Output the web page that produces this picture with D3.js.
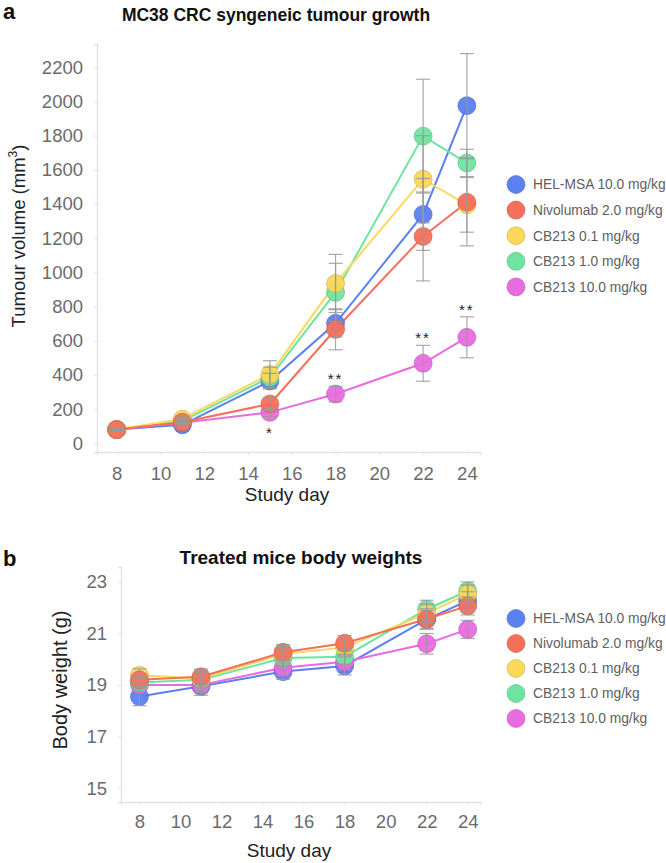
<!DOCTYPE html>
<html><head><meta charset="utf-8">
<script src="https://cdn.jsdelivr.net/npm/d3@7"></script>
<style>body{margin:0;background:#fff;} svg{display:block;font-family:"Liberation Sans",Arial,Helvetica,sans-serif;}</style>
</head><body>
<script>
const days = [8, 11, 15, 18, 22, 24];
const seriesNames = ["HEL-MSA 10.0 mg/kg", "Nivolumab 2.0 mg/kg", "CB213 0.1 mg/kg", "CB213 1.0 mg/kg", "CB213 10.0 mg/kg"];
const seriesColors = ["#5b80f2", "#f5705a", "#fbd75a", "#6fe4a0", "#e96be0"];
// tumour volume (mm3)
const tumourHEL = [80, 108, 364, 702, 1339, 1975];
const tumourNivo = [80, 123, 230, 667, 1210, 1410];
const tumourCB01 = [80, 142, 403, 935, 1545, 1395];
const tumourCB1 = [80, 130, 385, 883, 1797, 1640];
const tumourCB10 = [80, 120, 181, 288, 468, 620];
const tumourErrHEL = [6, 15, 45, 80, 210, 305];
const tumourErrNivo = [6, 15, 35, 120, 260, 255];
const tumourErrCB01 = [6, 18, 80, 170, 255, 160];
const tumourErrCB1 = [6, 16, 60, 170, 333, 80];
const tumourErrCB10 = [6, 15, 25, 45, 105, 120];
const tumourStars = ["", "", "*", "**", "**", "**"];
// body weight (g)
const weightHEL = [18.55, 18.95, 19.52, 19.74, 21.55, 22.27];
const weightNivo = [19.2, 19.32, 20.27, 20.62, 21.56, 22.07];
const weightCB01 = [19.38, 19.25, 20.2, 20.46, 21.78, 22.53];
const weightCB1 = [19.1, 19.2, 20.05, 20.1, 21.94, 22.65];
const weightCB10 = [19.0, 19.0, 19.67, 19.9, 20.6, 21.16];
const weightErrHEL = [0.35, 0.35, 0.3, 0.35, 0.35, 0.35];
const weightErrNivo = [0.25, 0.3, 0.3, 0.3, 0.4, 0.35];
const weightErrCB01 = [0.25, 0.3, 0.3, 0.3, 0.35, 0.35];
const weightErrCB1 = [0.25, 0.3, 0.3, 0.3, 0.35, 0.35];
const weightErrCB10 = [0.25, 0.3, 0.3, 0.3, 0.4, 0.35];
const xTicks = [8, 10, 12, 14, 16, 18, 20, 22, 24];
const tumourTicks = [0, 200, 400, 600, 800, 1000, 1200, 1400, 1600, 1800, 2000, 2200];
const weightTicks = [15, 17, 19, 21, 23];

const tumourVals = [tumourHEL, tumourNivo, tumourCB01, tumourCB1, tumourCB10];
const tumourErrs = [tumourErrHEL, tumourErrNivo, tumourErrCB01, tumourErrCB1, tumourErrCB10];
const weightVals = [weightHEL, weightNivo, weightCB01, weightCB1, weightCB10];
const weightErrs = [weightErrHEL, weightErrNivo, weightErrCB01, weightErrCB1, weightErrCB10];
const drawOrder = [0, 4, 3, 2, 1];

const svg = d3.select("body").append("svg").attr("width", 666).attr("height", 863);

function panel(opt) {
  const x = d3.scaleLinear().domain([7.1, 24.6]).range([opt.left, 480]);
  const y = d3.scaleLinear().domain(opt.yDomain).range([opt.bottom, opt.top]);
  const g = svg.append("g");
  // axes
  const ax = g.append("g").attr("transform", `translate(0,${opt.bottom})`)
    .call(d3.axisBottom(x).tickValues(xTicks).tickSize(3).tickPadding(opt.xPad).tickFormat(d3.format("d")));
  const ay = g.append("g").attr("transform", `translate(${opt.left},0)`)
    .call(d3.axisLeft(y).tickValues(opt.yTicks).tickSize(3).tickPadding(11).tickFormat(d3.format("d")));
  [ax, ay].forEach(a => {
    a.select(".domain").attr("stroke", "#e1e1ea").attr("stroke-width", 1.3);
    a.selectAll(".tick line").attr("stroke", "#e1e1ea");
    a.selectAll(".tick text").attr("fill", "#6b6b6b").attr("font-size", 18.5)
      .attr("font-family", "'Liberation Sans',Arial,sans-serif");
  });
  const r = opt.r;
  const line = d3.line().x((d, i) => x(days[i])).y(d => y(d));
  drawOrder.forEach(s => {
    g.append("path").datum(opt.vals[s]).attr("d", line).attr("fill", "none")
      .attr("stroke", seriesColors[s]).attr("stroke-width", 2);
  });
  drawOrder.forEach(s => {
    g.append("g").selectAll("circle").data(opt.vals[s]).join("circle")
      .attr("cx", (d, i) => x(days[i])).attr("cy", d => y(d)).attr("r", r)
      .attr("fill", seriesColors[s]).attr("fill-opacity", 0.95)
      .attr("stroke", d3.color(seriesColors[s]).darker(0.6)).attr("stroke-opacity", 0.6).attr("stroke-width", 1);
  });
  drawOrder.forEach(s => {
    const eg = g.append("g").attr("stroke", "#999").attr("stroke-width", 1.2).attr("stroke-opacity", 0.85);
    opt.vals[s].forEach((v, i) => {
      const e = opt.errs[s][i];
      const cx = x(days[i]);
      eg.append("line").attr("x1", cx).attr("x2", cx).attr("y1", y(v - e)).attr("y2", y(v + e));
      eg.append("line").attr("x1", cx - 7).attr("x2", cx + 7).attr("y1", y(v - e)).attr("y2", y(v - e));
      eg.append("line").attr("x1", cx - 7).attr("x2", cx + 7).attr("y1", y(v + e)).attr("y2", y(v + e));
    });
  });
  // title & labels
  svg.append("text").attr("x", opt.titleX).attr("y", opt.titleY).attr("text-anchor", "middle")
    .attr("font-weight", "bold").attr("font-size", opt.titleSize).attr("fill", "#111").text(opt.title);
  svg.append("text").attr("x", opt.letterX).attr("y", opt.letterY)
    .attr("font-weight", "bold").attr("font-size", 22).attr("fill", "#111").text(opt.letter);
  svg.append("text").attr("x", opt.xLabelX).attr("y", opt.xLabelY).attr("text-anchor", "middle")
    .attr("font-size", 19).attr("fill", "#222").text("Study day");
  const yl = svg.append("text").attr("transform", `translate(${opt.yLabelX},${opt.yLabelY}) rotate(-90)`)
    .attr("text-anchor", "middle").attr("font-size", opt.yLabelSize).attr("fill", "#222");
  opt.yLabel(yl);
  // legend
  const lg = svg.append("g");
  seriesNames.forEach((n, i) => {
    const ly = opt.legendY + i * opt.legendStep;
    lg.append("circle").attr("cx", 516).attr("cy", ly).attr("r", 9)
      .attr("fill", seriesColors[i]).attr("stroke", d3.color(seriesColors[i]).darker(0.6)).attr("stroke-opacity", 0.6);
    lg.append("text").attr("x", 533).attr("y", ly).attr("dy", "0.35em")
      .attr("font-size", 13.8).attr("fill", "#606060").text(n);
  });
  return { x, y, g };
}

const panelA = panel({
  left: 97, top: 44, bottom: 452, yDomain: [-51, 2336], yTicks: tumourTicks, r: 9, xPad: 12,
  vals: tumourVals, errs: tumourErrs,
  title: "MC38 CRC syngeneic tumour growth", titleX: 276, titleY: 21, titleSize: 17.5,
  letter: "a", letterX: 3, letterY: 19, xLabelX: 287, xLabelY: 501,
  yLabelX: 25, yLabelY: 236, yLabelSize: 18.5,
  yLabel: t => { t.append("tspan").text("Tumour volume (mm"); t.append("tspan").attr("font-size", 12).attr("dy", -8).text("3"); t.append("tspan").attr("dy", 8).text(")"); },
  legendY: 184.5, legendStep: 25.6
});
// significance stars for CB213 10.0 mg/kg
tumourStars.forEach((s, i) => {
  if (!s) return;
  const v = tumourCB10[i], e = tumourErrCB10[i];
  const yy = s === "*" ? panelA.y(v - e) + 21 : panelA.y(v + e) - 2;
  panelA.g.append("text").attr("x", panelA.x(days[i])).attr("y", yy).attr("text-anchor", "middle")
    .attr("font-size", 15).attr("letter-spacing", 2).attr("fill", "#222").text(s);
});

panel({
  left: 121, top: 567, bottom: 802, yDomain: [14.46, 23.58], yTicks: weightTicks, r: 9, xPad: 10,
  vals: weightVals, errs: weightErrs,
  title: "Treated mice body weights", titleX: 301, titleY: 564, titleSize: 19,
  letter: "b", letterX: 3, letterY: 566, xLabelX: 289, xLabelY: 857,
  yLabelX: 67, yLabelY: 680, yLabelSize: 20,
  yLabel: t => t.text("Body weight (g)"),
  legendY: 618.5, legendStep: 25
});
</script>
</body></html>
